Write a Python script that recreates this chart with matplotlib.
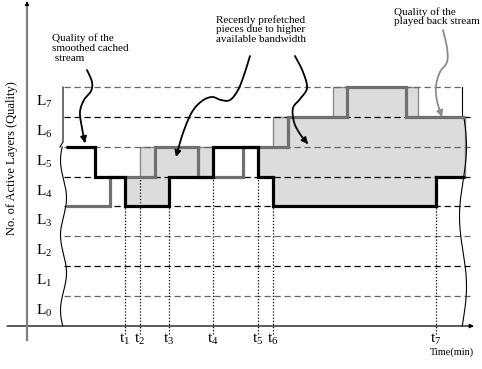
import matplotlib
matplotlib.use("Agg")
import matplotlib.pyplot as plt
import numpy as np

plt.rcParams["font.family"] = ["Liberation Serif", "DejaVu Serif"]
plt.rcParams["mathtext.fontset"] = "custom"
plt.rcParams["mathtext.rm"] = "Liberation Serif"
plt.rcParams["mathtext.it"] = "Liberation Serif:italic"

# time (arbitrary units) and quality levels
tick_times = [98, 113, 142, 186, 231, 246, 409]
tick_labels = ["t$_1$", "t$_2$", "t$_3$", "t$_4$", "t$_5$", "t$_6$", "t$_7$"]
tick_tops = [4, 5, 4, 5, 5, 4, 4]

layer_labels = ["L$_0$", "L$_1$", "L$_2$", "L$_3$", "L$_4$", "L$_5$", "L$_6$", "L$_7$"]
grid_levels = [1, 2, 3, 4, 5, 6, 7, 8]
grid_colors = ["#666666", "black", "#666666", "black", "black", "#666666", "black", "#666666"]

cached_edges = [39, 68, 98, 142, 186, 231, 246, 409, 438]
cached_levels = [6, 5, 4, 5, 6, 5, 4, 5]

played_edges = [39, 83, 128, 171, 216, 261, 320, 379, 438]
played_levels = [4, 5, 6, 5, 6, 7, 8, 7]

prefetch_edges = [98, 113, 246, 306, 391, 438]
prefetch_top = [5, 6, 7, 8, 7]

# pixel -> data helpers (figure is laid out in 482x369 px)
X0, Y0, DY = 27, 326, 29.9


def px(x, y):
    return (x - X0, (Y0 - y) / DY)


def step_at(edges, levels, x):
    i = np.searchsorted(edges, x, side="right") - 1
    return np.asarray(levels)[np.clip(i, 0, len(levels) - 1)]


def smooth(pts, n=14):
    """Catmull-Rom curve through pixel points, returned in data coords."""
    p = np.asarray(pts, float)
    p = np.vstack([p[0], p, p[-1]])
    out = []
    t = np.linspace(0, 1, n, endpoint=False)[:, None]
    for i in range(1, len(p) - 2):
        p0, p1, p2, p3 = p[i - 1], p[i], p[i + 1], p[i + 2]
        out.append(0.5 * (2 * p1 + (-p0 + p2) * t + (2 * p0 - 5 * p1 + 4 * p2 - p3) * t ** 2
                          + (-p0 + 3 * p1 - 3 * p2 + p3) * t ** 3))
    out.append(p[-2][None])
    xy = np.vstack(out)
    return xy[:, 0] - X0, (Y0 - xy[:, 1]) / DY


def wavy_arrow(ax, pts, color="black", lw=1.3):
    x, y = smooth(pts)
    ax.plot(x[:-3], y[:-3], color=color, lw=lw, solid_capstyle="round", zorder=6)
    ax.annotate("", xy=(x[-1], y[-1]), xytext=(x[-4], y[-4]),
                arrowprops=dict(arrowstyle="-|>", color=color, lw=lw,
                                mutation_scale=9, shrinkA=0, shrinkB=0), zorder=6)


fig = plt.figure(figsize=(4.82, 3.69), dpi=100)
ax = fig.add_axes([0, 0, 1, 1])
ax.set_xlim(-X0, 482 - X0)
ax.set_ylim((Y0 - 369) / DY, Y0 / DY)
ax.axis("off")

# prefetched region between the cached stream and the prefetch envelope
grid = np.unique(np.concatenate([cached_edges, prefetch_edges]))
grid = grid[(grid >= prefetch_edges[0]) & (grid <= prefetch_edges[-1])]
mids = grid[:-1]
top = step_at(prefetch_edges, prefetch_top, mids)
low = step_at(cached_edges, cached_levels, mids)
ax.stairs(top, grid, baseline=low, fill=True, facecolor="#dcdcdc",
          edgecolor="#8a8a8a", lw=1.0, zorder=1)

# dashed level lines
x_start, x_end = px(64, 0)[0], px(470, 0)[0]
for lvl, c in zip(grid_levels, grid_colors):
    xe = px(462, 0)[0] if lvl == 8 else x_end
    ax.plot([x_start, xe], [lvl, lvl], color=c, lw=0.9, ls=(0, (5, 3)), zorder=2)

# dotted time markers
ax.vlines(tick_times, -0.27, tick_tops, colors="black", linestyles=(0, (1, 1.5)), lw=0.9, zorder=2)
for t, lab in zip(tick_times, tick_labels):
    ax.text(t, -0.45, lab, ha="center", va="center", fontsize=11, zorder=5)

for i, lab in enumerate(layer_labels):
    ax.text(px(36, 0)[0], i + 0.5, lab, ha="left", va="center", fontsize=11)

# played back (gray) and cached (black) streams
ax.stairs(played_levels, played_edges, baseline=None, color="#707070", lw=2.3, zorder=3)
ax.stairs(cached_levels, cached_edges, baseline=None, color="black", lw=2.3, zorder=4)

# axes
ax.plot(*zip(px(27, 340), px(27, 8)), color="#808080", lw=1.6, zorder=5)
ax.annotate("", xy=px(27, 1), xytext=px(27, 9),
            arrowprops=dict(arrowstyle="-|>", color="black", lw=0.8, mutation_scale=6,
                            shrinkA=0, shrinkB=0))
ax.annotate("", xy=px(474, 326), xytext=px(7, 326),
            arrowprops=dict(arrowstyle="-|>", color="black", lw=0.9, mutation_scale=6,
                            shrinkA=0, shrinkB=0))

# braces on the left and right
ax.plot(*zip(px(63, 87), px(63, 142), px(60, 147)), color="black", lw=0.8)
yy = np.linspace(147, 326, 200)
xb = 63.5 + 3 * np.sin((yy - 147) / 75 * 2 * np.pi + 3.6)
ax.plot(xb - X0, (Y0 - yy) / DY, color="black", lw=0.8)
ax.plot(*zip(px(462, 87), px(462, 118)), color="black", lw=0.8)
yr = np.linspace(118, 326, 200)
xr = 463 + 3.5 * np.sin((yr - 118) / 140 * 2 * np.pi + 0.3)
ax.plot(xr - X0, (Y0 - yr) / DY, color="black", lw=0.8)

# annotations
ax.text(*px(52, 33), "Quality of the\nsmoothed cached\n stream", fontsize=8,
        ha="left", va="top", linespacing=1.15)
wavy_arrow(ax, [(87, 70), (92, 82), (91, 91), (84, 100), (80, 112), (82, 128), (85, 143)])

ax.text(*px(261, 15), "Recently prefetched\npieces due to higher\navailable bandwidth",
        fontsize=8, ha="center", va="top", multialignment="center", linespacing=1.1)
wavy_arrow(ax, [(250, 56), (244, 75), (238, 90), (230, 100), (221, 100), (212, 97),
                (202, 101), (192, 112), (183, 133), (176, 157)])
wavy_arrow(ax, [(295, 56), (303, 72), (307, 88), (300, 99), (293, 108), (294, 122),
                (300, 134), (308, 144)])

ax.text(*px(394, 7), "Quality of the\nplayed back stream", fontsize=8,
        ha="left", va="top", linespacing=1.1)
wavy_arrow(ax, [(443, 30), (447, 48), (447, 62), (440, 72), (436, 86), (437, 101),
                (442, 117)], color="#8c8c8c")

ax.text(*px(12, 158), "No. of Active Layers (Quality)", rotation=90, fontsize=9,
        ha="center", va="center")
ax.text(*px(452, 352), "Time(min)", fontsize=7.5, ha="center", va="center")

fig.savefig("out.png", dpi=100)
